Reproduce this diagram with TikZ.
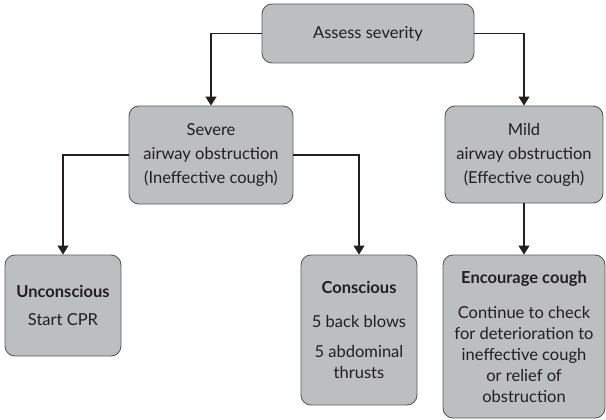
\documentclass[tikz,border=0pt]{standalone}
\usepackage{fontspec}
\setmainfont{Lato}
\usetikzlibrary{arrows.meta}
\definecolor{boxfill}{HTML}{BCBEC0}
\definecolor{boxline}{HTML}{5A5B5D}
\definecolor{ink}{HTML}{231F20}
\begin{document}
\begin{tikzpicture}[x=1pt,y=-1pt,
  box/.style={draw=boxline, fill=boxfill, line width=0.9pt, rounded corners=10pt,
    align=center, text=ink, inner sep=0pt, font=\fontsize{16.5}{21}\selectfont},
  arr/.style={draw=ink, line width=1.1pt, -{Triangle[width=11pt,length=9pt]}}]
\useasboundingbox (0,0) rectangle (606,420);
\node[box, minimum width=212pt, minimum height=59pt] (assess) at (368,33.5) {Assess severity};
\node[box, minimum width=164pt, minimum height=98pt] (severe) at (211,155)
  {Severe\\[3pt] airway obstruction\\[3pt] (Ineffective cough)};
\node[box, minimum width=158pt, minimum height=97pt] (mild) at (524,154.5)
  {Mild\\[3pt] airway obstruction\\[3pt] (Effective cough)};
\node[box, minimum width=116pt, minimum height=101pt] (uncon) at (63,305.5)
  {\textbf{Unconscious}\\[7pt] Start CPR};
\node[box, minimum width=116pt, minimum height=150pt] (con) at (359,330)
  {\textbf{Conscious}\\[13pt] 5 back blows\\[9pt] 5 abdominal\\ thrusts};
\node[box, minimum width=162pt, minimum height=163pt] (enc) at (524,336.5)
  {\textbf{Encourage cough}\\[14pt] Continue to check\\ for deterioration to\\ ineffective cough\\ or relief of\\ obstruction};
\draw[arr] (assess.west) -| (severe.north);
\draw[arr] (assess.east) -| (mild.north);
\draw[arr] (severe.west) -| (uncon.north);
\draw[arr] (severe.east) -| (con.north);
\draw[arr] (mild.south) -- (enc.north);
\end{tikzpicture}
\end{document}
